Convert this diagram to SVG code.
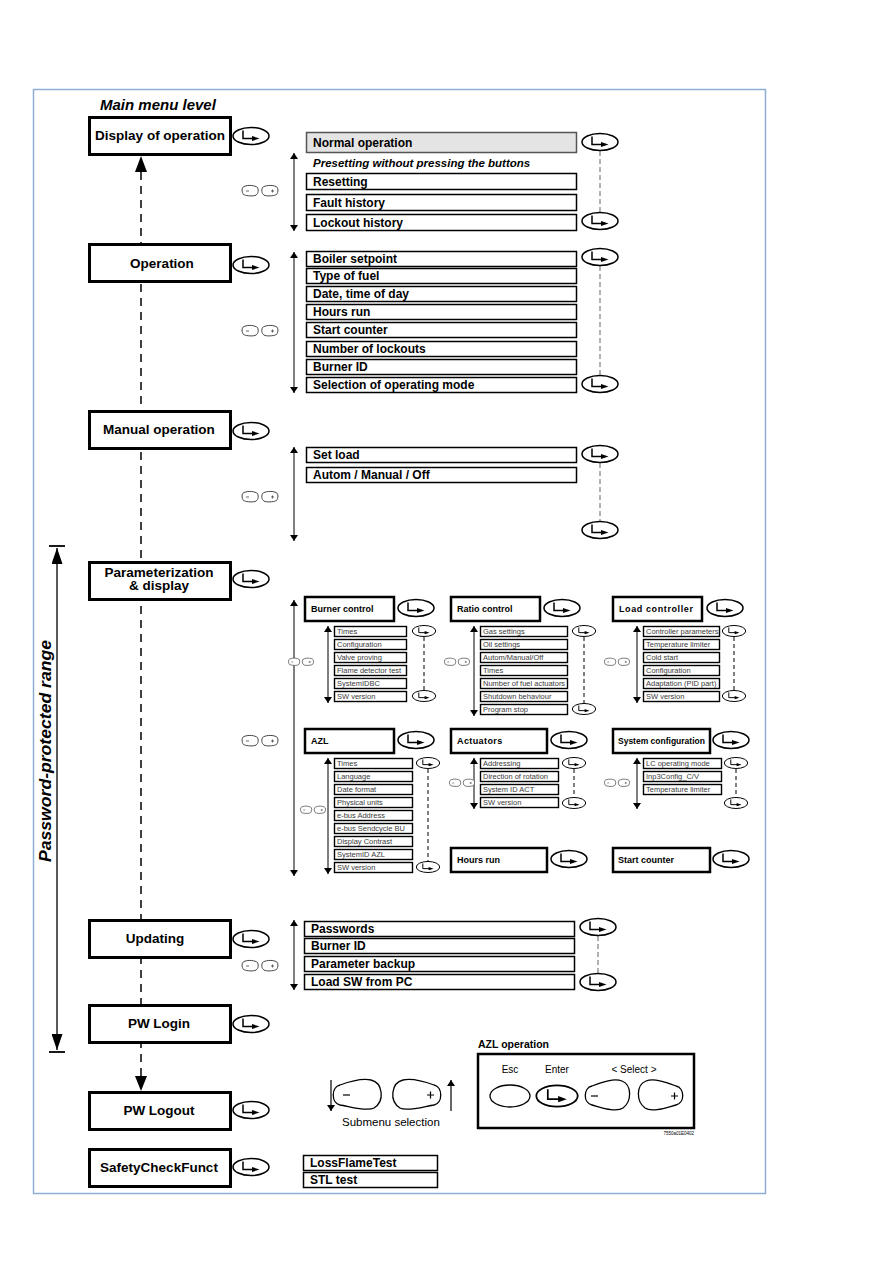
<svg xmlns="http://www.w3.org/2000/svg" xmlns:xlink="http://www.w3.org/1999/xlink" width="893" height="1263" viewBox="0 0 893 1263">
<style>
.frame{fill:none;stroke:#8eaed6;stroke-width:1.5}
.main rect{fill:#fff;stroke:#000;stroke-width:3}
.main text{font-family:"Liberation Sans",Arial,sans-serif;font-weight:bold;font-size:13.5px;text-anchor:middle;fill:#000}
.item rect{fill:#fff;stroke:#000;stroke-width:1.5}
.item text{font-family:"Liberation Sans",Arial,sans-serif;font-weight:bold;font-size:12px;fill:#000}
.head rect{fill:#fff;stroke:#000;stroke-width:2.5}
.head text{font-family:"Liberation Sans",Arial,sans-serif;font-weight:bold;font-size:9px;fill:#000}
.sm rect{fill:#fff;stroke:#000;stroke-width:1.4}
.sm text{font-family:"Liberation Sans",Arial,sans-serif;font-size:7.5px;fill:#3a3a3a}
.dbl{stroke:#000;stroke-width:1;fill:none;marker-start:url(#ah);marker-end:url(#ah)}
.dgrey{stroke:#999;stroke-width:1.5;stroke-dasharray:5 3;fill:none}
.dblk{stroke:#000;stroke-width:1;stroke-dasharray:4 3;fill:none}
.t{font-family:"Liberation Sans",Arial,sans-serif;fill:#000}
.btn{fill:#fff;stroke:#000;stroke-width:1.3}
</style>
<defs>
<marker id="ah" viewBox="0 0 10 10" refX="10" refY="5" markerWidth="6" markerHeight="8" markerUnits="userSpaceOnUse" orient="auto-start-reverse" preserveAspectRatio="none"><path d="M0,0 L10,5 L0,10 Z" fill="#000"/></marker>
<marker id="ahb" viewBox="0 0 10 10" refX="10" refY="5" markerWidth="16" markerHeight="11" markerUnits="userSpaceOnUse" orient="auto-start-reverse" preserveAspectRatio="none"><path d="M0,0 L10,5 L0,10 Z" fill="#000"/></marker>
<g id="ent"><ellipse rx="18" ry="8.5" fill="#fff" stroke="#000" stroke-width="1.5"/><path d="M-8,-5.5 V2.5 H2" fill="none" stroke="#000" stroke-width="1.5"/><path d="M1,0 L8.5,2.5 L1,5 Z" fill="#000"/></g>
<g id="keys"><path d="M-16,-4.5 C-11,-6.5 -5,-5.5 -2.5,-3.5 C-1,0 -2,3.5 -5,4.5 C-9,5.5 -15,4.5 -16.5,3.5 C-18.5,1 -18.5,-3.5 -16,-4.5 Z" fill="#fff" stroke="#444" stroke-width="1"/><path d="M-14,0 H-11" stroke="#444" stroke-width="0.8"/><path d="M16,-4.5 C11,-6.5 5,-5.5 2.5,-3.5 C1,0 2,3.5 5,4.5 C9,5.5 15,4.5 16.5,3.5 C18.5,1 18.5,-3.5 16,-4.5 Z" fill="#fff" stroke="#444" stroke-width="1"/><path d="M11,0 H14 M12.5,-1.5 V1.5" stroke="#444" stroke-width="0.8"/></g>
</defs>
<rect width="893" height="1263" fill="#fff"/>
<rect class="frame" x="33.5" y="89.5" width="732" height="1104"/>

<g id="connectors">
<line x1="141" y1="172" x2="141" y2="1076" stroke="#000" stroke-width="1.5" stroke-dasharray="8 6"/>
<path d="M135,172 L141,156 L147,172 Z" fill="#000"/>
<path d="M135,1076 L141,1091 L147,1076 Z" fill="#000"/>
<line x1="57" y1="548" x2="57" y2="1050" stroke="#000" stroke-width="1.3" marker-start="url(#ahb)" marker-end="url(#ahb)"/>
<line x1="49" y1="546" x2="65" y2="546" stroke="#000" stroke-width="1.8"/>
<line x1="49" y1="1052" x2="65" y2="1052" stroke="#000" stroke-width="1.8"/>
<line class="dbl" x1="294" y1="153" x2="294" y2="231"/>
<line class="dbl" x1="294" y1="252" x2="294" y2="393"/>
<line class="dbl" x1="294" y1="447" x2="294" y2="541"/>
<line class="dbl" x1="294" y1="600" x2="294" y2="876"/>
<line class="dbl" x1="294" y1="920" x2="294" y2="990"/>
<line class="dbl" x1="328" y1="626" x2="328" y2="703"/>
<line class="dbl" x1="474" y1="626" x2="474" y2="716"/>
<line class="dbl" x1="637" y1="626" x2="637" y2="703"/>
<line class="dbl" x1="328" y1="758" x2="328" y2="874"/>
<line class="dbl" x1="474" y1="758" x2="474" y2="809"/>
<line class="dbl" x1="637" y1="758" x2="637" y2="809"/>
<line class="dgrey" x1="600" y1="151" x2="600" y2="212"/>
<line class="dgrey" x1="600" y1="266" x2="600" y2="375"/>
<line class="dgrey" x1="600" y1="463" x2="600" y2="521"/>
<line class="dgrey" x1="598" y1="936" x2="598" y2="973"/>
<line class="dblk" x1="424" y1="637" x2="424" y2="690"/>
<line class="dblk" x1="584" y1="637" x2="584" y2="703"/>
<line class="dblk" x1="734" y1="637" x2="734" y2="690"/>
<line class="dblk" x1="428" y1="769" x2="428" y2="861"/>
<line class="dblk" x1="574" y1="769" x2="574" y2="797"/>
<line class="dblk" x1="736" y1="769" x2="736" y2="797"/>
</g>

<text class="t" x="100" y="110" font-size="15" font-weight="bold" font-style="italic">Main menu level</text>
<text class="t" transform="translate(51,862) rotate(-90)" font-size="16.5" font-weight="bold" font-style="italic" textLength="222" lengthAdjust="spacingAndGlyphs">Password-protected range</text>

<g id="n-display" class="main"><rect x="89.5" y="117.5" width="141" height="37"/><text x="160" y="140">Display of operation</text><use xlink:href="#ent" transform="translate(251,136)"/></g>
<g id="n-operation" class="main"><rect x="89.5" y="244.5" width="141" height="37"/><text x="162" y="268">Operation</text><use xlink:href="#ent" transform="translate(251,265)"/></g>
<g id="n-manual" class="main"><rect x="89.5" y="411.5" width="141" height="37"/><text x="159" y="434">Manual operation</text><use xlink:href="#ent" transform="translate(251,431)"/></g>
<g id="n-param" class="main"><rect x="89.5" y="562.5" width="141" height="37"/><text x="159" y="577">Parameterization</text><text x="159" y="590">&amp; display</text><use xlink:href="#ent" transform="translate(251,579)"/></g>
<g id="n-updating" class="main"><rect x="89.5" y="920.5" width="141" height="37"/><text x="155" y="943">Updating</text><use xlink:href="#ent" transform="translate(251,939)"/></g>
<g id="n-pwlogin" class="main"><rect x="89.5" y="1005.5" width="141" height="37"/><text x="159" y="1028">PW Login</text><use xlink:href="#ent" transform="translate(251,1024)"/></g>
<g id="n-pwlogout" class="main"><rect x="89.5" y="1092.5" width="141" height="37"/><text x="159" y="1115">PW Logout</text><use xlink:href="#ent" transform="translate(251,1110)"/></g>
<g id="n-safety" class="main"><rect x="89.5" y="1149.5" width="141" height="37"/><text x="159" y="1172">SafetyCheckFunct</text><use xlink:href="#ent" transform="translate(251,1167)"/></g>

<g id="sub-display" class="item">
<rect x="306.5" y="132.5" width="270" height="20" style="fill:#e4e4e4;stroke:#555"/><text x="313" y="147">Normal operation</text>
<text x="313" y="167" style="font-style:italic;font-size:11.5px">Presetting without pressing the buttons</text>
<rect x="306.5" y="173.5" width="270" height="16"/><text x="313" y="186">Resetting</text>
<rect x="306.5" y="194.5" width="270" height="16"/><text x="313" y="207">Fault history</text>
<rect x="306.5" y="214.5" width="270" height="16"/><text x="313" y="227">Lockout history</text>
<use xlink:href="#ent" transform="translate(600,142)"/><use xlink:href="#ent" transform="translate(600,221)"/>
<use xlink:href="#keys" transform="translate(260,191)"/>
</g>

<g id="sub-operation" class="item">
<rect x="306.5" y="251.5" width="270" height="15"/><text x="313" y="263">Boiler setpoint</text>
<rect x="306.5" y="268.5" width="270" height="15"/><text x="313" y="280">Type of fuel</text>
<rect x="306.5" y="286.5" width="270" height="15"/><text x="313" y="298">Date, time of day</text>
<rect x="306.5" y="304.5" width="270" height="15"/><text x="313" y="316">Hours run</text>
<rect x="306.5" y="322.5" width="270" height="15"/><text x="313" y="334">Start counter</text>
<rect x="306.5" y="341.5" width="270" height="15"/><text x="313" y="353">Number of lockouts</text>
<rect x="306.5" y="359.5" width="270" height="15"/><text x="313" y="371">Burner ID</text>
<rect x="306.5" y="377.5" width="270" height="15"/><text x="313" y="389">Selection of operating mode</text>
<use xlink:href="#ent" transform="translate(600,257)"/><use xlink:href="#ent" transform="translate(600,384)"/>
<use xlink:href="#keys" transform="translate(260,331)"/>
</g>

<g id="sub-manual" class="item">
<rect x="306.5" y="447.5" width="270" height="15"/><text x="313" y="459">Set load</text>
<rect x="306.5" y="467.5" width="270" height="15"/><text x="313" y="479">Autom / Manual / Off</text>
<use xlink:href="#ent" transform="translate(600,454)"/><use xlink:href="#ent" transform="translate(600,530)"/>
<use xlink:href="#keys" transform="translate(260,497)"/>
</g>

<use xlink:href="#keys" transform="translate(260,741)"/>

<g id="burner-control">
<g class="head"><rect x="305" y="597" width="89" height="24"/><text x="311" y="612">Burner control</text></g>
<use xlink:href="#ent" transform="translate(416,608)"/>
<g class="sm">
<rect x="334.5" y="626.5" width="72" height="10"/><text x="337" y="634">Times</text>
<rect x="334.5" y="639.5" width="72" height="10"/><text x="337" y="647">Configuration</text>
<rect x="334.5" y="652.5" width="72" height="10"/><text x="337" y="660">Valve proving</text>
<rect x="334.5" y="665.5" width="72" height="10"/><text x="337" y="673">Flame detector test</text>
<rect x="334.5" y="678.5" width="72" height="10"/><text x="337" y="686">SystemIDBC</text>
<rect x="334.5" y="691.5" width="72" height="10"/><text x="337" y="699">SW version</text>
</g>
<use xlink:href="#ent" transform="translate(424,631) scale(0.65)"/><use xlink:href="#ent" transform="translate(424,696) scale(0.65)"/>
<use xlink:href="#keys" transform="translate(301,662) scale(0.7)"/>
</g>

<g id="ratio-control">
<g class="head"><rect x="451" y="597" width="89" height="24"/><text x="457" y="612">Ratio control</text></g>
<use xlink:href="#ent" transform="translate(562,608)"/>
<g class="sm">
<rect x="480.5" y="626.5" width="87" height="10"/><text x="483" y="634">Gas settings</text>
<rect x="480.5" y="639.5" width="87" height="10"/><text x="483" y="647">Oil settings</text>
<rect x="480.5" y="652.5" width="87" height="10"/><text x="483" y="660">Autom/Manual/Off</text>
<rect x="480.5" y="665.5" width="87" height="10"/><text x="483" y="673">Times</text>
<rect x="480.5" y="678.5" width="87" height="10"/><text x="483" y="686">Number of fuel actuators</text>
<rect x="480.5" y="691.5" width="87" height="10"/><text x="483" y="699">Shutdown behaviour</text>
<rect x="480.5" y="704.5" width="87" height="10"/><text x="483" y="712">Program stop</text>
</g>
<use xlink:href="#ent" transform="translate(584,631) scale(0.65)"/><use xlink:href="#ent" transform="translate(584,709) scale(0.65)"/>
<use xlink:href="#keys" transform="translate(457,662) scale(0.7)"/>
</g>

<g id="load-controller">
<g class="head"><rect x="613" y="597" width="89" height="24"/><text x="619" y="612" letter-spacing="0.6">Load controller</text></g>
<use xlink:href="#ent" transform="translate(725,608)"/>
<g class="sm">
<rect x="643.5" y="626.5" width="76" height="10"/><text x="646" y="634">Controller parameters</text>
<rect x="643.5" y="639.5" width="76" height="10"/><text x="646" y="647">Temperature limiter</text>
<rect x="643.5" y="652.5" width="76" height="10"/><text x="646" y="660">Cold start</text>
<rect x="643.5" y="665.5" width="76" height="10"/><text x="646" y="673">Configuration</text>
<rect x="643.5" y="678.5" width="76" height="10"/><text x="646" y="686">Adaptation (PID part)</text>
<rect x="643.5" y="691.5" width="76" height="10"/><text x="646" y="699">SW version</text>
</g>
<use xlink:href="#ent" transform="translate(734,631) scale(0.65)"/><use xlink:href="#ent" transform="translate(734,696) scale(0.65)"/>
<use xlink:href="#keys" transform="translate(617,662) scale(0.7)"/>
</g>

<g id="azl">
<g class="head"><rect x="305" y="729" width="89" height="24"/><text x="311" y="744">AZL</text></g>
<use xlink:href="#ent" transform="translate(416,740)"/>
<g class="sm">
<rect x="334.5" y="758.5" width="78" height="10"/><text x="337" y="766">Times</text>
<rect x="334.5" y="771.5" width="78" height="10"/><text x="337" y="779">Language</text>
<rect x="334.5" y="784.5" width="78" height="10"/><text x="337" y="792">Date format</text>
<rect x="334.5" y="797.5" width="78" height="10"/><text x="337" y="805">Physical units</text>
<rect x="334.5" y="810.5" width="78" height="10"/><text x="337" y="818">e-bus Address</text>
<rect x="334.5" y="823.5" width="78" height="10"/><text x="337" y="831">e-bus Sendcycle BU</text>
<rect x="334.5" y="836.5" width="78" height="10"/><text x="337" y="844">Display Contrast</text>
<rect x="334.5" y="849.5" width="78" height="10"/><text x="337" y="857">SystemID AZL</text>
<rect x="334.5" y="862.5" width="78" height="10"/><text x="337" y="870">SW version</text>
</g>
<use xlink:href="#ent" transform="translate(428,763) scale(0.65)"/><use xlink:href="#ent" transform="translate(428,867) scale(0.65)"/>
<use xlink:href="#keys" transform="translate(313,810) scale(0.7)"/>
</g>

<g id="actuators">
<g class="head"><rect x="451" y="729" width="96" height="24"/><text x="457" y="744" letter-spacing="0.4">Actuators</text></g>
<use xlink:href="#ent" transform="translate(569,740)"/>
<g class="sm">
<rect x="480.5" y="758.5" width="78" height="10"/><text x="483" y="766">Addressing</text>
<rect x="480.5" y="771.5" width="78" height="10"/><text x="483" y="779">Direction of rotation</text>
<rect x="480.5" y="784.5" width="78" height="10"/><text x="483" y="792">System ID ACT</text>
<rect x="480.5" y="797.5" width="78" height="10"/><text x="483" y="805">SW version</text>
</g>
<use xlink:href="#ent" transform="translate(574,763) scale(0.65)"/><use xlink:href="#ent" transform="translate(574,803) scale(0.65)"/>
<use xlink:href="#keys" transform="translate(462,783) scale(0.7)"/>
</g>

<g id="system-configuration">
<g class="head"><rect x="613" y="729" width="97" height="24"/><text x="618" y="744" style="font-size:8.5px">System configuration</text></g>
<use xlink:href="#ent" transform="translate(731,740)"/>
<g class="sm">
<rect x="643.5" y="758.5" width="78" height="10"/><text x="646" y="766">LC operating mode</text>
<rect x="643.5" y="771.5" width="78" height="10"/><text x="646" y="779">Inp3Config_C/V</text>
<rect x="643.5" y="784.5" width="78" height="10"/><text x="646" y="792">Temperature limiter</text>
</g>
<use xlink:href="#ent" transform="translate(736,763) scale(0.65)"/><use xlink:href="#ent" transform="translate(736,803) scale(0.65)"/>
<use xlink:href="#keys" transform="translate(617,783) scale(0.7)"/>
</g>

<g id="hours-run">
<g class="head"><rect x="451" y="848" width="96" height="24"/><text x="457" y="863">Hours run</text></g>
<use xlink:href="#ent" transform="translate(569,859)"/>
</g>
<g id="start-counter">
<g class="head"><rect x="613" y="848" width="97" height="24"/><text x="618" y="863">Start counter</text></g>
<use xlink:href="#ent" transform="translate(731,859)"/>
</g>

<g id="sub-updating" class="item">
<rect x="304.5" y="921.5" width="270" height="15"/><text x="311" y="933">Passwords</text>
<rect x="304.5" y="938.5" width="270" height="15"/><text x="311" y="950">Burner ID</text>
<rect x="304.5" y="956.5" width="270" height="15"/><text x="311" y="968">Parameter backup</text>
<rect x="304.5" y="974.5" width="270" height="15"/><text x="311" y="986">Load SW from PC</text>
<use xlink:href="#ent" transform="translate(598,927)"/><use xlink:href="#ent" transform="translate(598,982)"/>
<use xlink:href="#keys" transform="translate(260,966)"/>
</g>

<g id="submenu-selection">
<line x1="331" y1="1080" x2="331" y2="1111" stroke="#000" stroke-width="1.2" marker-end="url(#ah)"/>
<line x1="451" y1="1111" x2="451" y2="1080" stroke="#000" stroke-width="1.2" marker-end="url(#ah)"/>
<path class="btn" d="M340,1085 C351,1081 362,1078 371,1080 C383,1083 385,1101 374,1108 C367,1112 348,1106 340,1105 C331,1103 331,1087 340,1085 Z"/>
<path d="M343,1095 H350" stroke="#000" stroke-width="1.2"/>
<path class="btn" d="M434,1085 C423,1081 412,1078 403,1080 C391,1083 389,1101 400,1108 C407,1112 426,1106 434,1105 C443,1103 443,1087 434,1085 Z"/>
<path d="M427,1095 H434 M430.5,1091.5 V1098.5" stroke="#000" stroke-width="1.2"/>
<text class="t" x="342" y="1126" font-size="11.5">Submenu selection</text>
</g>

<g id="azl-operation">
<text class="t" x="478" y="1048" font-size="10.5" font-weight="bold">AZL operation</text>
<rect x="478" y="1054" width="216" height="74" fill="#fff" stroke="#000" stroke-width="2.5"/>
<text class="t" x="510" y="1073" font-size="10" text-anchor="middle">Esc</text>
<text class="t" x="557" y="1073" font-size="10" text-anchor="middle">Enter</text>
<text class="t" x="634" y="1073" font-size="10" text-anchor="middle">&lt; Select &gt;</text>
<ellipse cx="510" cy="1096" rx="20" ry="11" fill="#fff" stroke="#000" stroke-width="1.3"/>
<use xlink:href="#ent" transform="translate(557,1096) scale(1.15,1.25)"/>
<path class="btn" d="M592,1086 C603,1082 614,1078 622,1081 C632,1085 632,1101 623,1108 C616,1113 600,1107 592,1105 C583,1103 583,1088 592,1086 Z"/>
<path d="M591,1096 H598" stroke="#000" stroke-width="1.2"/>
<path class="btn" d="M676,1086 C665,1082 654,1078 646,1081 C636,1085 636,1101 645,1108 C652,1113 668,1107 676,1105 C685,1103 685,1088 676,1086 Z"/>
<path d="M671,1096 H678 M674.5,1092.5 V1099.5" stroke="#000" stroke-width="1.2"/>
<text class="t" x="694" y="1135" font-size="4.5" text-anchor="end" fill="#555">7550a01E0402</text>
</g>

<g id="sub-safety" class="item">
<rect x="303.5" y="1155.5" width="134" height="15"/><text x="310" y="1167">LossFlameTest</text>
<rect x="303.5" y="1172.5" width="134" height="15"/><text x="310" y="1184">STL test</text>
</g>
</svg>
